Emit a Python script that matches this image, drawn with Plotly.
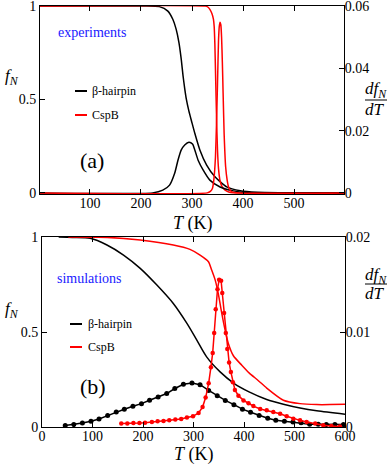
import plotly.graph_objects as go

# ---- experiments (top panel) ----
exp_hp_T = [2, 200, 236, 252.7, 262.6, 269, 274.5, 279, 282.4, 285.7, 289, 293.7, 299, 305.5,
            315.4, 328.7, 345, 368, 394.7, 428, 470, 598]
exp_hp_f = [1, 1, 0.997, 0.973, 0.928, 0.875, 0.803, 0.713, 0.628, 0.558, 0.5, 0.44, 0.385, 0.319,
            0.23, 0.149, 0.086, 0.032, 0.011, 0.003, 0.001, 0]
exp_hp_dT = [2, 223, 242.8, 256, 266, 272.5, 279, 285.7, 294, 301, 305.5, 312, 322, 335, 355, 381, 414, 598]
exp_hp_d = [0, 0, 0.00087, 0.0025, 0.0063, 0.0105, 0.0138, 0.0154, 0.01626, 0.0157, 0.0138, 0.0105,
            0.0073, 0.0041, 0.0019, 0.00065, 0, 0]

exp_csp_T = [2, 326, 331, 335, 339, 342, 343.5, 344.8, 346, 347.3, 348.6, 350, 352, 355, 359, 365, 372, 380, 598]
exp_csp_f = [1, 1, 0.995, 0.982, 0.96, 0.93, 0.89, 0.8, 0.66, 0.5, 0.35, 0.23, 0.13, 0.065, 0.033, 0.015,
             0.005, 0.001, 0]
exp_csp_dT = [2, 330, 336, 340, 343, 346, 348, 350, 352, 353.5, 355, 356.5, 358, 359.5, 361, 363, 366,
              369, 372, 378, 598]
exp_csp_d = [0, 0, 0.0005, 0.0014, 0.0045, 0.0115, 0.022, 0.035, 0.049, 0.0535, 0.0548, 0.054, 0.05,
             0.042, 0.032, 0.019, 0.0083, 0.004, 0.0017, 0.0003, 0]

# ---- simulations (bottom panel) ----
sim_hp_T = [33, 60, 95.5, 128.6, 161.4, 194.5, 227.5, 260, 287, 306.6, 326, 352.7, 380, 410, 445,
            478, 511, 544, 600]
sim_hp_f = [1, 0.998, 0.993, 0.958, 0.905, 0.835, 0.747, 0.65, 0.545, 0.457, 0.369, 0.29, 0.23, 0.185,
            0.145, 0.12, 0.1, 0.085, 0.067]
sim_csp_T = [52, 129, 194.5, 260, 293, 313, 329.6, 336, 343, 349, 356, 362.6, 369, 379, 395.6, 410,
             428, 445, 478, 511, 544, 570, 600]
sim_csp_f = [1, 0.998, 0.984, 0.958, 0.935, 0.905, 0.87, 0.826, 0.773, 0.703, 0.598, 0.51, 0.44, 0.375,
             0.325, 0.285, 0.245, 0.205, 0.141, 0.123, 0.118, 0.118, 0.12]

sim_hp_dT = [46, 63, 80, 97, 113, 130, 147, 163, 180, 197, 213, 230, 247, 263, 280, 297, 313, 330,
             347, 363, 380, 397, 413, 430, 447, 463, 480, 497, 513, 530, 547, 563, 580, 597]
sim_hp_d = [0.00015, 0.00025, 0.00042, 0.0006, 0.00084, 0.0012, 0.00158, 0.00187, 0.00218, 0.00246,
            0.00281, 0.00316, 0.00352, 0.00405, 0.0045, 0.00464, 0.00445, 0.00385, 0.0033, 0.0028,
            0.00235, 0.00188, 0.00155, 0.0012, 0.00093, 0.00072, 0.0006, 0.00053, 0.00044, 0.0003,
            0.00028, 0.00026, 0.00025, 0.00025]
sim_csp_dT = [157, 169, 181, 193, 204, 217.6, 229, 240.6, 252, 264, 275.6, 287, 299, 310, 318, 324, 330,
              334.5, 338, 341, 344, 347.5, 350.7, 354.7, 357, 360.6, 364, 367, 370.5, 374, 378, 382,
              389, 399, 409, 418.6, 432, 445, 458, 471.5, 484.6, 497.7, 511, 524, 541, 557, 573, 590]
sim_csp_d = [0.00036, 0.00036, 0.00042, 0.00042, 0.00046, 0.00053, 0.0006, 0.00063, 0.0007, 0.00078,
             0.00084, 0.00099, 0.00113, 0.00148, 0.0021, 0.0031, 0.0046, 0.0063, 0.0078, 0.0099,
             0.0124, 0.0145, 0.0155, 0.0154, 0.0141, 0.012, 0.0099, 0.0082, 0.0068, 0.0058, 0.0047,
             0.0039, 0.0033, 0.0028, 0.0025, 0.0022, 0.0019, 0.00176, 0.00158, 0.0014, 0.00113,
             0.00088, 0.0007, 0.00053, 0.00036, 0.00018, 0.0001, 0.00004]

series_names = ["β-hairpin", "CspB"]
BLACK, RED = "black", "#ff0000"
FONT = "Liberation Serif"
W, H = 390, 464


def fx(x):
    return x / W


def fy(y):
    return 1 - y / H


fig = go.Figure()

# top panel
fig.add_trace(go.Scatter(x=exp_hp_T, y=exp_hp_f, mode="lines", line=dict(color=BLACK, width=1.5, shape="spline", smoothing=0.6), xaxis="x", yaxis="y"))
fig.add_trace(go.Scatter(x=exp_hp_dT, y=exp_hp_d, mode="lines", line=dict(color=BLACK, width=1.5, shape="spline", smoothing=0.6), xaxis="x", yaxis="y2"))
fig.add_trace(go.Scatter(x=exp_csp_T, y=exp_csp_f, mode="lines", line=dict(color=RED, width=1.5, shape="spline", smoothing=0.5), xaxis="x", yaxis="y"))
fig.add_trace(go.Scatter(x=exp_csp_dT, y=exp_csp_d, mode="lines", line=dict(color=RED, width=1.5, shape="spline", smoothing=0.5), xaxis="x", yaxis="y2"))

# bottom panel
fig.add_trace(go.Scatter(x=sim_hp_T, y=sim_hp_f, mode="lines", line=dict(color=BLACK, width=1.5, shape="spline", smoothing=0.8), xaxis="x2", yaxis="y3"))
fig.add_trace(go.Scatter(x=sim_csp_T, y=sim_csp_f, mode="lines", line=dict(color=RED, width=1.5, shape="spline", smoothing=0.6), xaxis="x2", yaxis="y3"))
fig.add_trace(go.Scatter(x=sim_hp_dT, y=sim_hp_d, mode="lines+markers", line=dict(color=BLACK, width=1.5),
                         marker=dict(color=BLACK, size=5), xaxis="x2", yaxis="y4"))
fig.add_trace(go.Scatter(x=sim_csp_dT, y=sim_csp_d, mode="lines+markers", line=dict(color=RED, width=1.5),
                         marker=dict(color=RED, size=4.5), xaxis="x2", yaxis="y4"))

axis_common = dict(showline=True, linecolor="black", linewidth=1, ticks="inside", ticklen=5,
                   tickcolor="black", showgrid=False, zeroline=False, automargin=False,
                   ticklabeloverflow="allow",
                   tickfont=dict(family=FONT, size=14, color="black"))
x_common = dict(axis_common, ticklabelstandoff=-4)
yr_common = dict(axis_common, ticklabelstandoff=-3)

fig.update_layout(
    width=W, height=H, margin=dict(l=0, r=0, t=0, b=0, pad=0, autoexpand=False),
    paper_bgcolor="white", plot_bgcolor="white", showlegend=False,
    font=dict(family=FONT, color="black"),
    xaxis=dict(domain=[fx(40), fx(344)], range=[2, 598], tickvals=[100, 200, 300, 400, 500],
               mirror="ticks", anchor="y", **x_common),
    yaxis=dict(domain=[fy(194), fy(5.5)], range=[-0.006, 1.003], tickvals=[0, 0.5, 1],
               ticktext=["0", "0.5", "1"], anchor="x", **axis_common),
    yaxis2=dict(overlaying="y", side="right", anchor="x", range=[-0.00036, 0.06018],
                tickvals=[0, 0.02, 0.04, 0.06], ticktext=["0", "0.02", "0.04", "0.06"], **yr_common),
    xaxis2=dict(domain=[fx(42), fx(345)], range=[0, 600], tickvals=[0, 100, 200, 300, 400, 500, 600],
                mirror="ticks", anchor="y3", **x_common),
    yaxis3=dict(domain=[fy(427), fy(237)], range=[0, 1], tickvals=[0, 0.5, 1],
                ticktext=["0", "0.5", "1"], anchor="x2", **axis_common),
    yaxis4=dict(overlaying="y3", side="right", anchor="x2", range=[0, 0.02],
                tickvals=[0, 0.01, 0.02], ticktext=["0", "0.01", "0.02"], **yr_common),
)

annotations = []
shapes = []


def note(text, x, y, size, color="black", xanchor="center"):
    annotations.append(dict(text=text, x=fx(x), y=fy(y), xref="paper", yref="paper",
                            showarrow=False, xanchor=xanchor, yanchor="middle",
                            font=dict(family=FONT, size=size, color=color)))


def hline(x0, x1, y, color, width):
    shapes.append(dict(type="line", xref="paper", yref="paper", x0=fx(x0), x1=fx(x1),
                       y0=fy(y), y1=fy(y), line=dict(color=color, width=width)))


# panel labels and headings
note("experiments", 56, 32, 14, color="#2020ff", xanchor="left")
note("simulations", 55, 278, 14, color="#2020ff", xanchor="left")
note("(a)", 92, 160, 22)
note("(b)", 93, 386, 22)

# legends
for (ly, col, name) in [(91, BLACK, series_names[0]), (115, RED, series_names[1])]:
    hline(75, 87, ly, col, 2)
    note(name, 90, ly, 12, xanchor="left")
for (ly, col, name) in [(324, BLACK, series_names[0]), (347, RED, series_names[1])]:
    hline(70, 82, ly, col, 2)
    note(name, 86, ly, 12, xanchor="left")

# axis titles
for yc in (77, 310):
    note("<i>f<sub>N</sub></i>", 12, yc, 17)
for (yn, yl, yd) in [(90, 100, 110), (276, 284, 293)]:
    note("<i>df<sub>N</sub></i>", 376, yn, 17)
    note("<i>dT</i>", 375, yd, 17)
    hline(365, 387, yl, "black", 1)
note("<i>T</i> (K)", 193, 223, 18)
note("<i>T</i> (K)", 194, 454, 18)

fig.update_layout(annotations=annotations, shapes=shapes)

# the page's default body margin would push the figure 8px in
fig.write_html("out.html", config={"staticPlot": True},
               post_script="document.body.style.margin='0px';")
